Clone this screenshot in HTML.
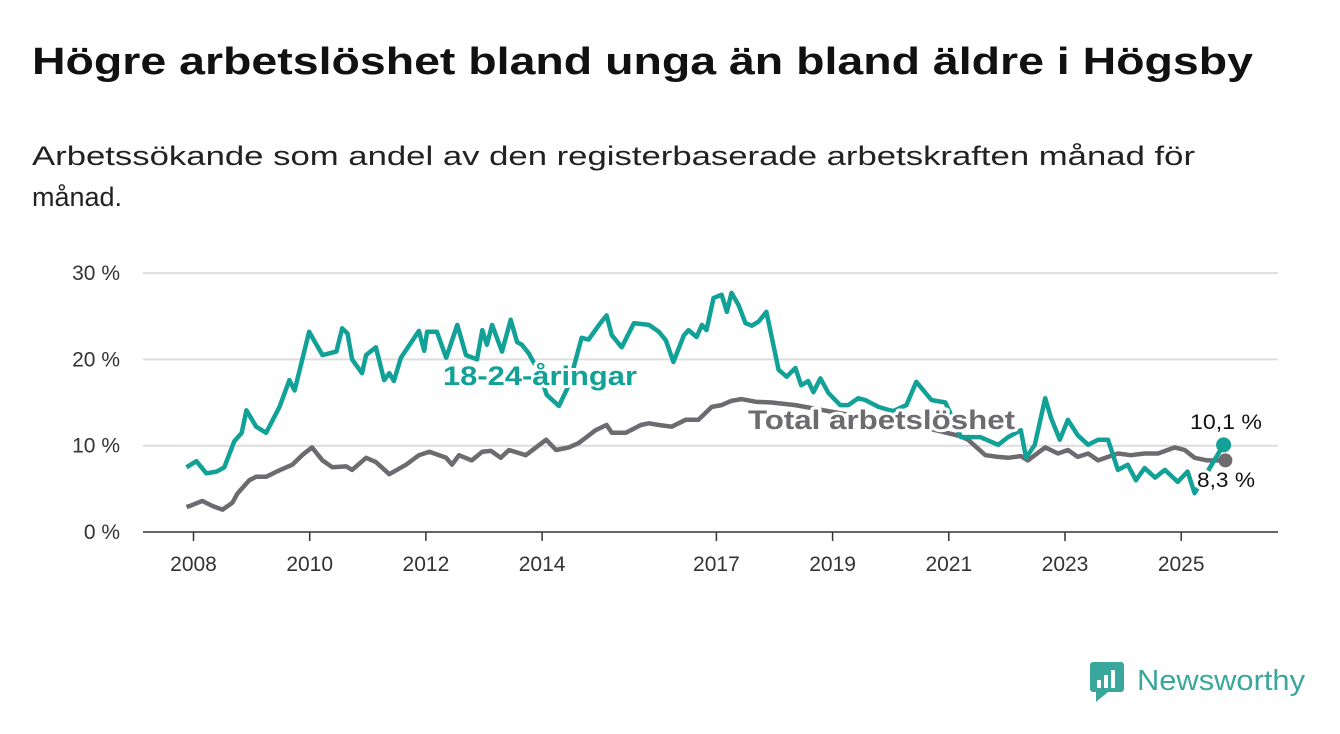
<!DOCTYPE html>
<html><head><meta charset="utf-8"><style>
html,body{margin:0;padding:0;background:#fff;}
svg{display:block;font-family:"Liberation Sans",sans-serif;}
</style></head><body>
<svg width="1340" height="734" viewBox="0 0 1340 734" id="svg">
<text x="32" y="74" font-size="38" font-weight="bold" fill="#111" textLength="1221" lengthAdjust="spacingAndGlyphs">Högre arbetslöshet bland unga än bland äldre i Högsby</text>
<text x="32" y="165" font-size="27" fill="#222" textLength="1163" lengthAdjust="spacingAndGlyphs">Arbetssökande som andel av den registerbaserade arbetskraften månad för</text>
<text x="32" y="206" font-size="27" fill="#222">månad.</text>
<g id="grid"></g><g id="lines"></g><g id="labels"></g>
<g>
<rect x="1090" y="662" width="34" height="30" rx="3" fill="#3aa79c"/>
<polygon points="1096,692 1108,692 1096,702" fill="#3aa79c"/>
<rect x="1097" y="680" width="4" height="8" fill="#fff"/><rect x="1104" y="675" width="4" height="13" fill="#fff"/><rect x="1111" y="670" width="4" height="18" fill="#fff"/>
<text x="1137" y="690" font-size="29" fill="#3aa79c" textLength="168" lengthAdjust="spacingAndGlyphs">Newsworthy</text>
</g>
</svg>
<script>
const yTicks=[0,10,20,30];
const yTickLabels=["0 %","10 %","20 %","30 %"];
const xTicks=[2008,2010,2012,2014,2017,2019,2021,2023,2025];
const youthYears=[2007.88,2008.05,2008.22,2008.40,2008.53,2008.70,2008.83,2008.91,2009.08,2009.25,2009.48,2009.65,2009.74,2009.99,2010.22,2010.46,2010.56,2010.65,2010.73,2010.90,2010.97,2011.14,2011.28,2011.37,2011.45,2011.57,2011.88,2011.97,2012.02,2012.19,2012.35,2012.54,2012.69,2012.88,2012.97,2013.05,2013.14,2013.31,2013.46,2013.57,2013.65,2013.77,2013.95,2014.08,2014.29,2014.46,2014.58,2014.68,2014.80,2014.98,2015.11,2015.20,2015.37,2015.58,2015.84,2016.01,2016.13,2016.26,2016.44,2016.52,2016.66,2016.75,2016.83,2016.95,2017.09,2017.18,2017.26,2017.38,2017.50,2017.61,2017.73,2017.86,2018.07,2018.21,2018.36,2018.46,2018.58,2018.67,2018.79,2018.93,2019.13,2019.27,2019.44,2019.56,2019.79,2020.04,2020.27,2020.44,2020.70,2020.94,2021.08,2021.21,2021.54,2021.85,2022.02,2022.24,2022.33,2022.48,2022.66,2022.76,2022.91,2023.05,2023.22,2023.40,2023.57,2023.74,2023.91,2024.08,2024.22,2024.37,2024.55,2024.72,2024.94,2025.11,2025.23,2025.73];
const youthValues=[7.5,8.2,6.8,7.0,7.5,10.5,11.5,14.1,12.2,11.5,14.5,17.6,16.4,23.2,20.5,20.9,23.6,23.0,20.0,18.4,20.5,21.4,17.6,18.4,17.5,20.2,23.3,21.0,23.2,23.2,20.2,24.0,20.5,20.0,23.4,21.7,24.0,20.9,24.6,22.0,21.7,20.7,18.5,15.9,14.6,17.0,20.0,22.5,22.3,24.0,25.1,22.8,21.4,24.2,24.0,23.2,22.2,19.7,22.8,23.4,22.6,24.0,23.4,27.1,27.5,25.5,27.7,26.3,24.2,23.9,24.4,25.5,18.8,18.0,19.0,17.0,17.5,16.2,17.8,16.1,14.7,14.7,15.5,15.3,14.5,14.0,14.7,17.4,15.3,15.0,13.0,11.0,11.0,10.1,11.0,11.8,8.6,10.1,15.5,13.2,10.7,13.0,11.2,10.1,10.7,10.7,7.2,7.8,6.0,7.4,6.3,7.2,5.8,7.0,4.5,10.1];
const totalYears=[2007.88,2007.97,2008.15,2008.33,2008.50,2008.67,2008.76,2008.96,2009.08,2009.25,2009.43,2009.70,2009.87,2010.04,2010.22,2010.39,2010.63,2010.73,2010.97,2011.14,2011.37,2011.66,2011.88,2012.06,2012.35,2012.45,2012.57,2012.79,2012.97,2013.12,2013.29,2013.43,2013.72,2014.07,2014.24,2014.46,2014.63,2014.92,2015.11,2015.20,2015.44,2015.70,2015.84,2016.01,2016.23,2016.47,2016.69,2016.92,2017.09,2017.26,2017.43,2017.67,2017.95,2018.36,2018.93,2019.79,2020.65,2021.20,2021.33,2021.63,2021.85,2022.02,2022.24,2022.36,2022.66,2022.88,2023.05,2023.22,2023.40,2023.57,2023.74,2023.91,2024.13,2024.37,2024.60,2024.89,2025.06,2025.23,2025.45,2025.76];
const totalValues=[2.9,3.1,3.6,3.0,2.6,3.4,4.5,6.0,6.4,6.4,7.0,7.8,8.9,9.8,8.3,7.5,7.6,7.2,8.6,8.1,6.7,7.8,8.9,9.3,8.6,7.8,8.9,8.3,9.3,9.4,8.6,9.5,8.9,10.7,9.5,9.8,10.3,11.8,12.4,11.5,11.5,12.4,12.6,12.4,12.2,13.0,13.0,14.5,14.7,15.2,15.4,15.1,15.0,14.7,14.0,13.0,12.0,11.1,10.7,8.9,8.7,8.6,8.8,8.3,9.8,9.1,9.5,8.7,9.1,8.3,8.7,9.1,8.9,9.1,9.1,9.8,9.5,8.6,8.3,8.3];
const NS="http://www.w3.org/2000/svg";
const xs=y=>193.5+(y-2008)*58.1;
const ys=v=>532-v*8.63;
function mk(tag,attrs,parent,txt){const e=document.createElementNS(NS,tag);for(const k in attrs)e.setAttribute(k,attrs[k]);if(txt!==undefined)e.textContent=txt;document.getElementById(parent).appendChild(e);return e;}
yTicks.forEach((t,i)=>{
  const l=mk('line',{x1:143,x2:1278,y1:ys(t),y2:ys(t),stroke:t===0?'#333':'#ddd','stroke-width':t===0?1.5:2},'grid');
  
  
  const tx=mk('text',{x:120,y:ys(t)+7,'text-anchor':'end','font-size':21,fill:'#333'},'grid',yTickLabels[i]);
  
  
});
xTicks.forEach(t=>{
  const l=mk('line',{x1:xs(t),x2:xs(t),y1:532,y2:541,stroke:'#333','stroke-width':1.5},'grid');
  
  
  const tx=mk('text',{x:xs(t),y:571,'text-anchor':'middle','font-size':21,fill:'#333'},'grid',String(t));
  
  
});
function pts(a,b){return a.map((y,i)=>xs(y).toFixed(1)+','+ys(b[i]).toFixed(1)).join(' ');}
const pt=mk('polyline',{points:pts(totalYears,totalValues),fill:'none',stroke:'#6d6b70','stroke-width':4.5,'stroke-linejoin':'round'},'lines');


const py=mk('polyline',{points:pts(youthYears,youthValues),fill:'none',stroke:'#12a197','stroke-width':4.5,'stroke-linejoin':'round'},'lines');


const ly=youthYears.length-1, lt=totalYears.length-1;
const dt=mk('circle',{cx:xs(totalYears[lt]),cy:ys(totalValues[lt]),r:7,fill:'#6d6b70'},'lines');


const dy=mk('circle',{cx:xs(youthYears[ly]),cy:ys(youthValues[ly]),r:7.5,fill:'#12a197'},'lines');


function lab(x,y,t,col,bold,len,size){const a={x:x,y:y,'font-size':size,'font-weight':bold?'bold':'normal',fill:col,stroke:'#fff','stroke-width':6,'paint-order':'stroke','stroke-linejoin':'round'};if(len){a.textLength=len;a.lengthAdjust='spacingAndGlyphs';}return mk('text',a,'labels',t);}
const l1=lab(443,385,'18-24-åringar','#12a197',true,194,27);


const l2=lab(748,429,'Total arbetslöshet','#6d6b70',true,267,27);


const l3=lab(1190,429,'10,1 %','#111',false,72,21);


const l4=lab(1197,487,'8,3 %','#111',false,58,21);


</script>
</body></html>
